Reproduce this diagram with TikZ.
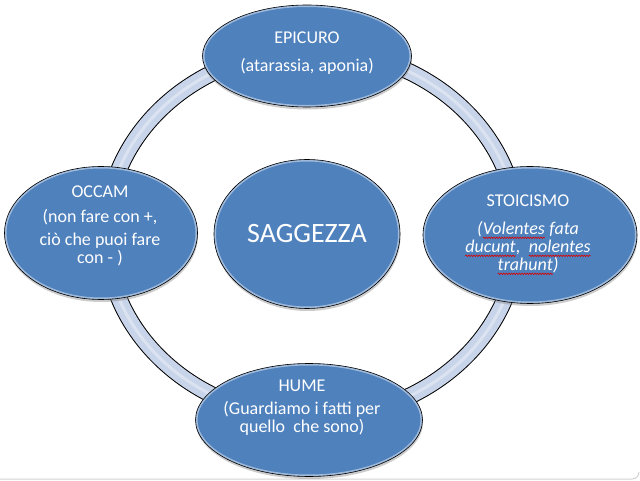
\documentclass[tikz,border=0pt]{standalone}
\usepackage{fontspec}
\setmainfont{Carlito}
\usetikzlibrary{shapes.geometric,shadows,calc,decorations.pathmorphing}
\definecolor{slideblue}{RGB}{79,129,189}
\definecolor{ringblue}{RGB}{200,212,234}
\newcommand\redwave[1]{\tikz[baseline=(w.base)]{\node[inner sep=0pt,outer sep=0pt,text=white] (w) {#1};
	\draw[red!85!black,line width=.6pt,decorate,decoration={snake,amplitude=.8pt,segment length=2.6pt}] ([yshift=-3pt]w.base west) -- ([yshift=-3pt]w.base east);}}

\begin{document}
\begin{tikzpicture}[x=1pt,y=-1pt,
	blob/.style={ellipse,draw=black,line width=.6pt,fill=slideblue,inner sep=0pt,
		drop shadow={opacity=.4,shadow xshift=.5pt,shadow yshift=-2.5pt},
		path picture={\draw[white,opacity=.45,line width=4pt] let \p1=($(path picture bounding box.north east)-(path picture bounding box.center)$) in (path picture bounding box.center) ellipse [x radius=\x1,y radius=\y1];}},
	words/.style={text=white,align=center,inner sep=0pt,font=\fontsize{18}{18}\selectfont}]
	\useasboundingbox (0,0) rectangle (640,481);
	% the ring behind
	\draw[line width=17pt] (312,234) ellipse [x radius=206,y radius=184];
	\draw[ringblue,line width=15pt] (312,234) ellipse [x radius=206,y radius=184];
	\draw[white,opacity=.35,line width=3pt] (312,234) ellipse [x radius=206,y radius=184];
	\draw[gray!35,line width=1pt] (0,479) -- (632,479) to[out=0,in=-90] (639,472);
	% the five ovals
	\node[blob,minimum width=209,minimum height=102] (epicuro) at (307,56) {};
	\node[blob,minimum width=214,minimum height=137] (stoicismo) at (530,235) {};
	\node[blob,minimum width=193,minimum height=133] (occam) at (101,233) {};
	\node[blob,minimum width=227,minimum height=113] (hume) at (309,420) {};
	\node[blob,minimum width=186,minimum height=149,text=white,font=\fontsize{28}{28}\selectfont] (saggezza) at (307,234) {SAGGEZZA};
	% texts
	\node[words] (epicuro text) at (307,53) {EPICURO\\[10pt](atarassia, aponia)};
	\node[words] (occam text) at (100,226) {OCCAM\\[7pt](non fare con +,\\[5pt]ciò che puoi fare\\con - )};
	\node[words] (stoicismo text) at (528,235) {STOICISMO\\[10pt]\textit{(\redwave{Volentes} fata}\\\textit{\redwave{ducunt},\ \ \redwave{nolentes}}\\\textit{\redwave{trahunt})}};
	\node[words] (hume text) at (302,408) {HUME\\[5pt](Guardiamo i fatti per\\quello\ \ che sono)};
\end{tikzpicture}
\end{document}
